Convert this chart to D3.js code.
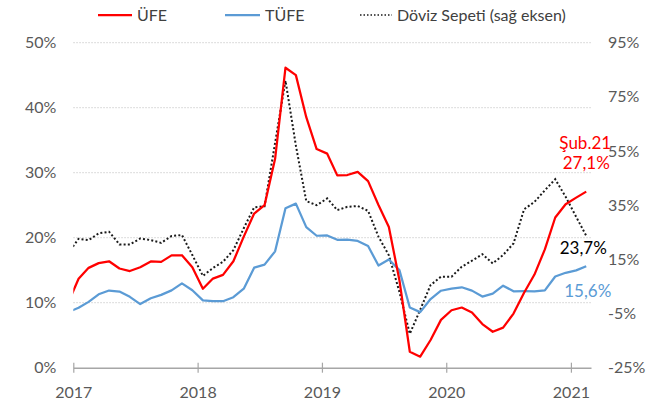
<!DOCTYPE html>
<html>
<head>
<meta charset="utf-8">
<script src="https://cdn.jsdelivr.net/npm/d3@7"></script>
<style>
  html, body { margin: 0; padding: 0; background: #fff; }
  svg { display: block; font-family: Lato, "Open Sans", sans-serif; }
</style>
</head>
<body>
<svg id="chart" width="658" height="403"></svg>
<script>
// Months (year-month), Dec 2016 .. Feb 2021
const months = [
  "2016-12",
  "2017-01","2017-02","2017-03","2017-04","2017-05","2017-06","2017-07","2017-08","2017-09","2017-10","2017-11","2017-12",
  "2018-01","2018-02","2018-03","2018-04","2018-05","2018-06","2018-07","2018-08","2018-09","2018-10","2018-11","2018-12",
  "2019-01","2019-02","2019-03","2019-04","2019-05","2019-06","2019-07","2019-08","2019-09","2019-10","2019-11","2019-12",
  "2020-01","2020-02","2020-03","2020-04","2020-05","2020-06","2020-07","2020-08","2020-09","2020-10","2020-11","2020-12",
  "2021-01","2021-02"
];
// ÜFE (annual %, left axis)
const ufe = [
  9.94,
  13.69,15.36,16.09,16.37,15.26,14.87,15.45,16.34,16.28,17.28,17.30,15.47,
  12.14,13.71,14.28,16.37,20.16,23.71,25.00,32.13,46.15,45.01,38.54,33.64,
  32.93,29.59,29.64,30.12,28.71,25.04,21.66,13.45,2.45,1.70,4.26,7.36,
  8.84,9.26,8.50,6.71,5.53,6.17,8.33,11.53,14.33,18.20,23.11,25.15,
  26.16,27.09
];
// TÜFE (annual %, left axis)
const tufe = [
  8.53,
  9.22,10.13,11.29,11.87,11.72,10.90,9.79,10.68,11.20,11.90,12.98,11.92,
  10.35,10.26,10.23,10.85,12.15,15.39,15.85,17.90,24.52,25.24,21.62,20.30,
  20.35,19.67,19.71,19.50,18.71,15.72,16.65,15.01,9.26,8.55,10.56,11.84,
  12.15,12.37,11.86,10.94,11.39,12.62,11.76,11.77,11.75,11.89,14.03,14.60,
  14.97,15.61
];
// Döviz Sepeti (annual %, right axis)
const doviz = [
  17.2,
  22.6,22.1,24.6,25.2,20.5,20.5,22.7,22.1,21.1,23.6,24.0,16.6,
  8.9,11.8,14.1,18.4,26.5,34.2,34.6,58.0,81.0,57.0,36.5,35.0,
  37.5,33.2,34.4,34.7,32.9,23.4,16.5,3.0,-12.5,-3.6,5.5,8.6,
  8.6,12.3,14.5,16.9,13.5,16.6,20.9,33.5,36.2,40.5,44.6,38.1,
  30.7,23.7
];
const leftTicks = [0,10,20,30,40,50];
const rightTicks = [-25,-5,15,35,55,75,95];
const seriesNames = ["ÜFE","TÜFE","Döviz Sepeti (sağ eksen)"];
const annotations = [
  {text:"Şub.21", series:"ufe"},
  {text:"27,1%", series:"ufe"},
  {text:"23,7%", series:"doviz"},
  {text:"15,6%", series:"tufe"}
];

const svg = d3.select("#chart");
const X0 = 73.3, X1 = 591, Y0 = 367.7, Y1 = 42.7;

function midMonth(s) {
  const [yy, mm] = s.split("-").map(Number);
  const a = Date.UTC(yy, mm - 1, 1), b = Date.UTC(yy, mm, 1);
  return new Date((a + b) / 2);
}
const dates = months.map(midMonth);

const x = d3.scaleUtc().domain([new Date(Date.UTC(2017,0,1)), new Date(Date.UTC(2021,2,1))]).range([X0, X1]);
const yL = d3.scaleLinear().domain([0, 50]).range([Y0, Y1]);
const yR = d3.scaleLinear().domain([-25, 95]).range([Y0, Y1]);

// gridlines
svg.append("g").selectAll("line").data(leftTicks.filter(d => d > 0)).join("line")
  .attr("x1", X0).attr("x2", X1)
  .attr("y1", d => yL(d)).attr("y2", d => yL(d))
  .attr("stroke", "#d0d0d0").attr("stroke-width", 1).attr("stroke-dasharray", "1.5,1.5");

// left axis
const gl = svg.append("g").attr("transform", `translate(${X0},0)`)
  .call(d3.axisLeft(yL).tickValues(leftTicks).tickFormat(d => d + "%").tickSize(0).tickPadding(17));
gl.select(".domain").remove();
gl.selectAll("text").attr("fill", "#595959").attr("font-size", 16).attr("font-family", "Lato");

// right axis
const gr = svg.append("g").attr("transform", `translate(${X1},0)`)
  .call(d3.axisRight(yR).tickValues(rightTicks).tickFormat(d => d + "%").tickSize(0).tickPadding(17));
gr.select(".domain").remove();
gr.selectAll("text").attr("fill", "#595959").attr("font-size", 16).attr("font-family", "Lato");

// bottom axis
const gb = svg.append("g").attr("transform", `translate(0,${Y0})`)
  .call(d3.axisBottom(x).ticks(d3.utcYear.every(1)).tickFormat(d3.utcFormat("%Y")).tickSizeOuter(0).tickSizeInner(5));
gb.select(".domain").attr("stroke", "#a6a6a6").attr("stroke-width", 1.5);
gb.selectAll(".tick line").attr("y1", -5).attr("y2", 5).attr("stroke", "#a6a6a6").attr("stroke-width", 1.2);
gb.selectAll(".tick text").attr("y", 19).attr("fill", "#595959").attr("font-size", 16).attr("font-family", "Lato");

// clip
svg.append("clipPath").attr("id", "clip").append("rect")
  .attr("x", X0).attr("y", 0).attr("width", X1 - X0).attr("height", 403);

const plot = svg.append("g").attr("clip-path", "url(#clip)");
const lineL = d3.line().x((d, i) => x(dates[i])).y(d => yL(d));
const lineR = d3.line().x((d, i) => x(dates[i])).y(d => yR(d));

plot.append("path").datum(doviz).attr("d", lineR)
  .attr("fill", "none").attr("stroke", "#1a1a1a").attr("stroke-width", 2)
  .attr("stroke-dasharray", "2,2.2");
plot.append("path").datum(tufe).attr("d", lineL)
  .attr("fill", "none").attr("stroke", "#5b9bd5").attr("stroke-width", 2.25).attr("stroke-linejoin", "round");
plot.append("path").datum(ufe).attr("d", lineL)
  .attr("fill", "none").attr("stroke", "#ff0000").attr("stroke-width", 2.25).attr("stroke-linejoin", "round");

// annotations
const lastIdx = months.length - 1;
const ax = x(dates[lastIdx]);
const ann = svg.append("g").attr("font-family", "Lato").attr("font-size", 17).attr("text-anchor", "middle");
ann.append("text").attr("x", ax - 1).attr("y", yL(ufe[lastIdx]) - 49).attr("dy", "0.35em")
  .attr("fill", "#ff0000").text(annotations[0].text);
ann.append("text").attr("x", ax).attr("y", yL(ufe[lastIdx]) - 28.5).attr("dy", "0.35em")
  .attr("fill", "#ff0000").text(annotations[1].text);
ann.append("text").attr("x", ax - 3).attr("y", yR(doviz[lastIdx]) + 12.5).attr("dy", "0.35em")
  .attr("fill", "#000000").text(annotations[2].text);
ann.append("text").attr("x", ax + 1.5).attr("y", yL(tufe[lastIdx]) + 25).attr("dy", "0.35em")
  .attr("fill", "#5b9bd5").text(annotations[3].text);

// legend
const leg = svg.append("g").attr("font-family", "Lato").attr("font-size", 16).attr("fill", "#404040");
const legItems = [
  {name: seriesNames[0], x1: 98, x2: 132, color: "#ff0000", dash: null, w: 2.25},
  {name: seriesNames[1], x1: 225, x2: 260, color: "#5b9bd5", dash: null, w: 2.25},
  {name: seriesNames[2], x1: 360, x2: 392, color: "#1a1a1a", dash: "1.5,2", w: 1.5}
];
legItems.forEach(it => {
  leg.append("line").attr("x1", it.x1).attr("x2", it.x2).attr("y1", 15).attr("y2", 15)
    .attr("stroke", it.color).attr("stroke-width", it.w).attr("stroke-dasharray", it.dash);
  leg.append("text").attr("x", it.x2 + 5).attr("y", 15).attr("dy", "0.35em").text(it.name);
});
</script>
</body>
</html>
